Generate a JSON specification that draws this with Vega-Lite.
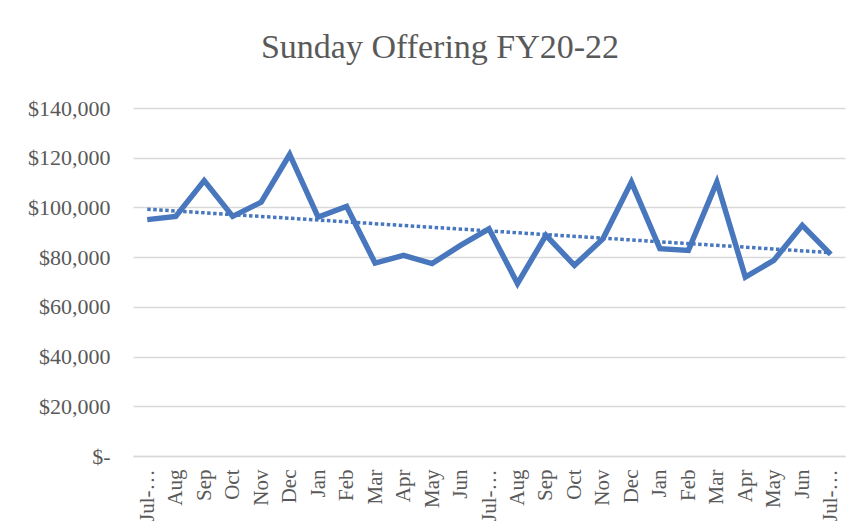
{
  "$schema": "https://vega.github.io/schema/vega-lite/v6.json",
  "autosize": "none",
  "width": 712,
  "height": 348,
  "padding": {"left": 133, "top": 108, "right": 17, "bottom": 65},
  "background": "white",
  "title": {
    "text": "Sunday Offering FY20-22",
    "font": "Liberation Serif",
    "fontSize": 34,
    "fontWeight": "normal",
    "color": "#595959",
    "baseline": "alphabetic",
    "offset": 5,
    "dx": -49
  },
  "config": {"view": {"stroke": null}},
  "data": {
    "values": [
      {"i": 0, "month": "Jul-20", "offering": 95100},
      {"i": 1, "month": "Aug-20", "offering": 96400},
      {"i": 2, "month": "Sep-20", "offering": 110800},
      {"i": 3, "month": "Oct-20", "offering": 96400},
      {"i": 4, "month": "Nov-20", "offering": 102100},
      {"i": 5, "month": "Dec-20", "offering": 121300},
      {"i": 6, "month": "Jan-21", "offering": 96100},
      {"i": 7, "month": "Feb-21", "offering": 100400},
      {"i": 8, "month": "Mar-21", "offering": 77600},
      {"i": 9, "month": "Apr-21", "offering": 80700},
      {"i": 10, "month": "May-21", "offering": 77400},
      {"i": 11, "month": "Jun-21", "offering": 84700},
      {"i": 12, "month": "Jul-21", "offering": 91400},
      {"i": 13, "month": "Aug-21", "offering": 69400},
      {"i": 14, "month": "Sep-21", "offering": 88800},
      {"i": 15, "month": "Oct-21", "offering": 76700},
      {"i": 16, "month": "Nov-21", "offering": 87400},
      {"i": 17, "month": "Dec-21", "offering": 110200},
      {"i": 18, "month": "Jan-22", "offering": 83400},
      {"i": 19, "month": "Feb-22", "offering": 82700},
      {"i": 20, "month": "Mar-22", "offering": 110200},
      {"i": 21, "month": "Apr-22", "offering": 72000},
      {"i": 22, "month": "May-22", "offering": 78700},
      {"i": 23, "month": "Jun-22", "offering": 92800},
      {"i": 24, "month": "Jul-22", "offering": 81100}
    ]
  },
  "encoding": {
    "x": {
      "field": "i",
      "type": "quantitative",
      "scale": {"domain": [-0.5, 24.5], "nice": false, "zero": false},
      "axis": {
        "title": null,
        "values": [0,1,2,3,4,5,6,7,8,9,10,11,12,13,14,15,16,17,18,19,20,21,22,23,24],
        "labelExpr": "['Jul-…','Aug','Sep','Oct','Nov','Dec','Jan','Feb','Mar','Apr','May','Jun','Jul-…','Aug','Sep','Oct','Nov','Dec','Jan','Feb','Mar','Apr','May','Jun','Jul-…'][datum.value]",
        "labelAngle": -90,
        "labelAlign": "right",
        "labelBaseline": "middle",
        "labelFont": "Liberation Serif",
        "labelFontSize": 21,
        "labelColor": "#595959",
        "labelOverlap": false,
        "labelPadding": 13,
        "labelBound": false,
        "labelFlush": false,
        "ticks": false,
        "grid": false,
        "domainColor": "#d9d9d9",
        "domainWidth": 1.5
      }
    },
    "y": {
      "field": "offering",
      "type": "quantitative",
      "scale": {"domain": [0, 140000], "nice": false},
      "axis": {
        "title": null,
        "values": [0, 20000, 40000, 60000, 80000, 100000, 120000, 140000],
        "labelExpr": "datum.value == 0 ? '$-\u00a0\u00a0' : '$' + format(datum.value, ',')",
        "labelFont": "Liberation Serif",
        "labelFontSize": 22,
        "labelColor": "#595959",
        "labelPadding": 23,
        "ticks": false,
        "domain": false,
        "grid": true,
        "gridColor": "#d9d9d9",
        "gridWidth": 1.5
      }
    }
  },
  "layer": [
    {
      "mark": {"type": "line", "color": "#4877BE", "strokeWidth": 5.5, "strokeJoin": "miter", "strokeCap": "butt"}
    },
    {
      "transform": [{"regression": "offering", "on": "i"}],
      "mark": {"type": "line", "color": "#4877BE", "strokeWidth": 3.5, "strokeDash": [3.5, 2.5]}
    }
  ]
}
